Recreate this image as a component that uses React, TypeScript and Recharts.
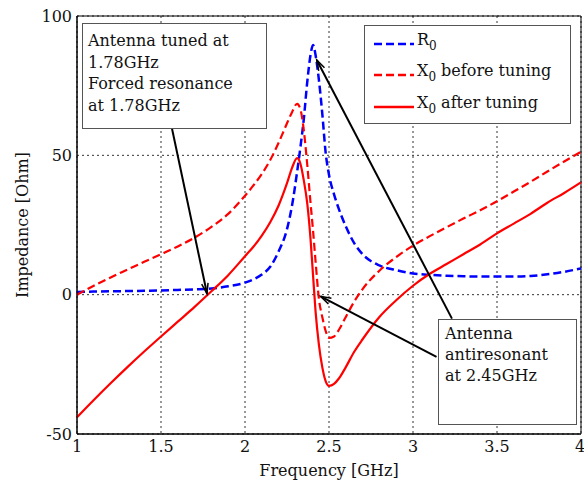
import React from "react";
import {
  CartesianGrid,
  Label,
  Line,
  LineChart,
  ReferenceArea,
  ReferenceLine,
  XAxis,
  YAxis,
} from "recharts";

const freqs = [
  1.0, 1.1, 1.2, 1.3, 1.4, 1.5, 1.6, 1.7, 1.8, 1.9, 2.0, 2.05, 2.1, 2.15, 2.2, 2.25, 2.28, 2.31, 2.33,
  2.35, 2.37, 2.39, 2.405, 2.42, 2.44, 2.46, 2.48, 2.5, 2.53, 2.56, 2.6, 2.65, 2.7, 2.8, 2.9, 3.0, 3.1,
  3.2, 3.3, 3.4, 3.5, 3.6, 3.7, 3.8, 3.9, 4.0,
];

const r0 = [
  1, 1.1, 1.2, 1.3, 1.4, 1.5, 1.7, 1.9, 2.2, 3, 4.3, 5.5, 7.2, 10, 15.5, 23.5, 32, 44, 53, 63, 76, 86,
  89.6, 86, 77, 65, 51, 43, 36, 30.5, 24.5, 18.5, 14.5, 10.5, 8.8, 7.6, 7.1, 6.8, 6.6, 6.5, 6.5, 6.5,
  6.7, 7.3, 8.2, 9.4,
];

const x0Before = [
  0, 3.2, 6.2, 9.0, 11.8, 14.5, 17.3, 20.5, 24.3, 29, 35.5, 39.2, 43.3, 48.3, 54.5, 61.5, 65.5, 68.5,
  66.5, 59, 47, 33, 23, 12, -1.5, -8, -13, -15.5, -15, -12.5, -8, -2.5, 2, 8.6, 13.5, 17.6, 21, 24.2,
  27.3, 30.3, 33.5, 37, 40.5, 44.2, 47.8, 51.3,
];

const x0After = [
  -44, -37.8, -31.8, -26, -20.4, -15, -9.7, -4.4, 1.2, 7, 13.8, 17.2, 21.2, 26, 32, 40, 45.5, 49, 47,
  41, 33, 20, 7, -6, -18, -26, -31, -32.7, -32, -30, -26, -20.5, -16, -8, -2, 3.2, 7.5, 11, 14.5, 18,
  22, 25.5, 29, 33, 36.5, 40.3,
];

const xTicks = [1, 1.5, 2, 2.5, 3, 3.5, 4];
const yTicks = [-50, 0, 50, 100];

const rows = freqs.map((f, i) => ({ f, r0: r0[i], xb: x0Before[i], xa: x0After[i] }));

const FONT = "'DejaVu Serif', 'Liberation Serif', serif";

// arrow: [from, to] in data coordinates
const arrows: [number, number][][] = [
  [[1.565, 59.7], [1.774, 0.3]],
  [[3.232, -8.6], [2.427, 84.2]],
  [[3.14, -22.3], [2.45, -0.6]],
];

function ArrowShape(props: any) {
  const { x1, y1, x2, y2 } = props;
  const a = Math.atan2(y2 - y1, x2 - x1);
  const len = 11;
  const spread = 0.3;
  const p1 = [x2 - len * Math.cos(a - spread), y2 - len * Math.sin(a - spread)];
  const p2 = [x2 - len * Math.cos(a + spread), y2 - len * Math.sin(a + spread)];
  return (
    <g>
      <line x1={x1} y1={y1} x2={x2} y2={y2} stroke="#000" strokeWidth={2} />
      <polyline
        points={`${p1[0]},${p1[1]} ${x2},${y2} ${p2[0]},${p2[1]}`}
        fill="none"
        stroke="#000"
        strokeWidth={1.5}
      />
    </g>
  );
}

const boxStyle: React.CSSProperties = {
  position: "absolute",
  background: "#fff",
  border: "1.5px solid #555",
  boxSizing: "border-box",
  fontFamily: FONT,
  fontSize: 16,
  color: "#111",
};

function Sub({ c }: { c: string }) {
  return <span style={{ fontSize: 12, verticalAlign: -5 }}>{c}</span>;
}

function LegendRow({ color, dash, top, children }: { color: string; dash?: string; top: number; children: React.ReactNode }) {
  return (
    <>
      <svg width={42} height={6} style={{ position: "absolute", left: 8, top: top - 3 }}>
        <line x1={1} y1={3} x2={41} y2={3} stroke={color} strokeWidth={2.5} strokeDasharray={dash} />
      </svg>
      <div style={{ position: "absolute", left: 52, top: top - 14, whiteSpace: "nowrap" }}>{children}</div>
    </>
  );
}

export default function App() {
  return (
    <div style={{ position: "absolute", left: 0, top: 0, width: 584, height: 482, background: "#fff" }}>
      <LineChart width={584} height={482} data={rows} margin={{ top: 16, right: 3, left: 0, bottom: 0 }}>
        <CartesianGrid stroke="#333" strokeDasharray="2 3" strokeWidth={1} />
        <XAxis
          dataKey="f"
          type="number"
          domain={[1, 4]}
          ticks={xTicks}
          height={48}
          tickLine={false}
          tickSize={0}
          tickMargin={7}
          axisLine={{ stroke: "#000" }}
          tick={{ fill: "#111", fontFamily: FONT, fontSize: 16 }}
        >
          <Label
            content={(p: any) => {
              const vb = p.viewBox;
              return (
                <text x={vb.x + vb.width / 2} y={476} textAnchor="middle" fontFamily={FONT} fontSize={16} fill="#111">
                  Frequency [GHz]
                </text>
              );
            }}
          />
        </XAxis>
        <YAxis
          type="number"
          domain={[-50, 100]}
          ticks={yTicks}
          width={77}
          tickLine={false}
          tickSize={0}
          tickMargin={5}
          axisLine={{ stroke: "#000" }}
          tick={{ fill: "#111", fontFamily: FONT, fontSize: 16 }}
          allowDataOverflow
        >
          <Label
            content={(p: any) => {
              const vb = p.viewBox;
              const cy = vb.y + vb.height / 2;
              return (
                <text x={22} y={cy} transform={`rotate(-90 22 ${cy})`} textAnchor="middle" dominantBaseline="central" fontFamily={FONT} fontSize={16} fill="#111">
                  Impedance [Ohm]
                </text>
              );
            }}
          />
        </YAxis>
        <ReferenceArea x1={1} x2={4} y1={-50} y2={100} fill="none" stroke="#000" strokeWidth={1} />
        <Line dataKey="r0" type="monotone" stroke="#0000ff" strokeWidth={2.5} strokeDasharray="8 4" dot={false} isAnimationActive={false} />
        <Line dataKey="xb" type="monotone" stroke="#ff0000" strokeWidth={2.2} strokeDasharray="8 4" dot={false} isAnimationActive={false} />
        <Line dataKey="xa" type="monotone" stroke="#ff0000" strokeWidth={2.2} dot={false} isAnimationActive={false} />
        {arrows.map((seg, i) => (
          <ReferenceLine
            key={i}
            segment={[
              { x: seg[0][0], y: seg[0][1] },
              { x: seg[1][0], y: seg[1][1] },
            ]}
            shape={ArrowShape}
            ifOverflow="visible"
          />
        ))}
      </LineChart>

      <div style={{ ...boxStyle, left: 82, top: 23, width: 185, height: 106, padding: "6px 0 0 5px", lineHeight: "21.5px" }}>
        Antenna tuned at
        <br />
        1.78GHz
        <br />
        Forced resonance
        <br />
        at 1.78GHz
      </div>

      <div style={{ ...boxStyle, left: 364, top: 25, width: 207, height: 99 }}>
        <LegendRow color="#00f" dash="8 4" top={18}>
          R<Sub c="0" />
        </LegendRow>
        <LegendRow color="#f00" dash="8 4" top={49}>
          X<Sub c="0" /> before tuning
        </LegendRow>
        <LegendRow color="#f00" top={81}>
          X<Sub c="0" /> after tuning
        </LegendRow>
      </div>

      <div style={{ ...boxStyle, left: 438, top: 319, width: 139, height: 106, padding: "3px 0 0 6px", lineHeight: "21px" }}>
        Antenna
        <br />
        antiresonant
        <br />
        at 2.45GHz
      </div>
    </div>
  );
}
